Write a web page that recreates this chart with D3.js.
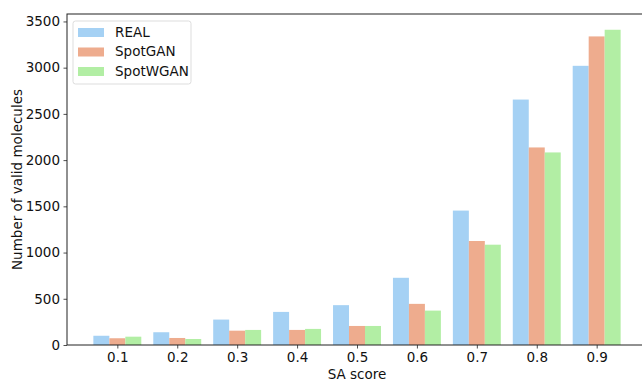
<!DOCTYPE html>
<html>
<head>
<meta charset="utf-8">
<script src="https://cdn.jsdelivr.net/npm/d3@7"></script>
<style>
  body { margin: 0; background: #fff; }
  text { font-family: "DejaVu Sans", sans-serif; }
</style>
</head>
<body>
<script>
// 基本设置
const width = 642;
const height = 381;
const marginTop = 14;
const marginLeft = 67;
const plotRight = 647;   // the right edge is cut off by the picture
const zeroY = 345;
const fontSize = 13.5;

// data
const categories = ["0.1", "0.2", "0.3", "0.4", "0.5", "0.6", "0.7", "0.8", "0.9"];
const seriesNames = ["REAL", "SpotGAN", "SpotWGAN"];
const realValues = [100, 138, 275, 358, 431, 727, 1454, 2655, 3020];
const spotGanValues = [73, 76, 155, 163, 206, 445, 1125, 2137, 3338];
const spotWganValues = [90, 65, 163, 174, 206, 372, 1085, 2083, 3410];
const yTicks = [0, 500, 1000, 1500, 2000, 2500, 3000, 3500];
const colors = ["#a5d1f4", "#eeac8e", "#b2eea4"];

const series = [realValues, spotGanValues, spotWganValues];
const rows = categories.map((c, i) => ({
  cat: c, idx: i,
  values: series.map((s, k) => ({ name: seriesNames[k], value: s[i], k: k }))
}));

const svg = d3.select('body')
  .append('svg')
  .attr('width', width)
  .attr('height', height);

// x in category index units, matplotlib style 5% margins
const x = d3.scaleLinear()
  .domain([-0.84, categories.length - 1 + 0.84])
  .range([marginLeft, plotRight]);

const inner = d3.scaleBand()
  .domain(seriesNames)
  .range([-0.4, 0.4]);

const yMax = d3.max(series.flat()) * 1.05;
const y = d3.scaleLinear()
  .domain([0, yMax])
  .range([zeroY, marginTop]);

// bars
const groups = svg.append('g')
  .selectAll('g')
  .data(rows)
  .join('g');

groups.selectAll('rect')
  .data(d => d.values.map(v => Object.assign({ idx: d.idx }, v)))
  .join('rect')
  .attr('x', d => x(d.idx + inner(d.name)))
  .attr('width', d => x(inner.bandwidth()) - x(0))
  .attr('y', d => y(d.value))
  .attr('height', d => y(0) - y(d.value))
  .attr('fill', d => colors[d.k]);

// axes
const xAxis = d3.axisBottom(x)
  .tickValues(d3.range(categories.length))
  .tickFormat(i => categories[i])
  .tickSize(3.5)
  .tickPadding(3.5);

const gx = svg.append('g')
  .attr('transform', `translate(0,${y(0)})`)
  .call(xAxis);

const yAxis = d3.axisLeft(y)
  .tickValues(yTicks)
  .tickFormat(d3.format('d'))
  .tickSize(3.5)
  .tickPadding(3.5);

const gy = svg.append('g')
  .attr('transform', `translate(${marginLeft},0)`)
  .call(yAxis);

[gx, gy].forEach(g => {
  g.select('.domain').remove();
  g.selectAll('.tick line').attr('stroke', '#222').attr('stroke-width', 0.8);
  g.selectAll('.tick text')
    .attr('fill', '#111')
    .style('font-size', fontSize + 'px')
    .style('font-family', '"DejaVu Sans", sans-serif');
});

// frame (spines)
svg.append('rect')
  .attr('x', marginLeft)
  .attr('y', marginTop)
  .attr('width', plotRight - marginLeft)
  .attr('height', y(0) - marginTop)
  .attr('fill', 'none')
  .attr('stroke', '#222')
  .attr('stroke-width', 1);

// labels
svg.append('text')
  .attr('x', (marginLeft + plotRight) / 2)
  .attr('y', 379)
  .attr('text-anchor', 'middle')
  .style('font-size', fontSize + 'px')
  .attr('fill', '#111')
  .text('SA score');

svg.append('text')
  .attr('transform', `translate(22,${(marginTop + y(0)) / 2}) rotate(-90)`)
  .attr('text-anchor', 'middle')
  .style('font-size', fontSize + 'px')
  .attr('fill', '#111')
  .text('Number of valid molecules');

// legend
const legend = svg.append('g')
  .attr('transform', 'translate(73,21)');

legend.append('rect')
  .attr('width', 118)
  .attr('height', 63)
  .attr('rx', 2.5)
  .attr('fill', 'rgba(255,255,255,0.8)')
  .attr('stroke', '#ddd')
  .attr('stroke-width', 1);

const items = legend.selectAll('g.item')
  .data(seriesNames)
  .join('g')
  .attr('class', 'item')
  .attr('transform', (d, i) => `translate(0,${11 + i * 19.5})`);

items.append('rect')
  .attr('x', 5)
  .attr('y', -4)
  .attr('width', 26)
  .attr('height', 9)
  .attr('fill', (d, i) => colors[i]);

items.append('text')
  .attr('x', 42)
  .attr('y', 0)
  .attr('dy', '0.36em')
  .style('font-size', fontSize + 'px')
  .attr('fill', '#111')
  .text(d => d);
</script>
</body>
</html>
